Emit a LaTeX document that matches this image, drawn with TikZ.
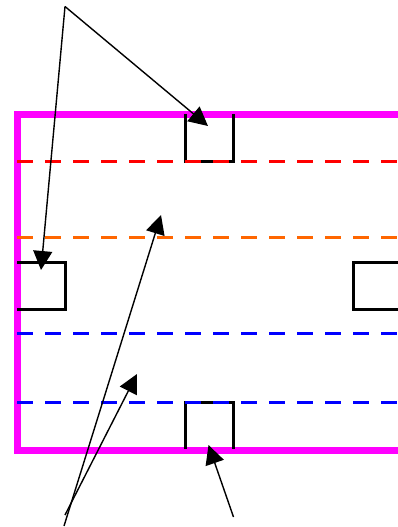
\documentclass[tikz,border=0pt]{standalone}
\usetikzlibrary{arrows.meta}
\definecolor{framemag}{HTML}{FF00FF}
\definecolor{lanered}{HTML}{FF0000}
\definecolor{laneorange}{HTML}{FF6600}
\definecolor{laneblue}{HTML}{0000FF}
\begin{document}
\begin{tikzpicture}[x=1pt,y=-1pt,
  frame/.style={draw=framemag, line width=7pt},
  port/.style={draw=black, line width=3pt},
  lane/.style={line width=3pt, dash pattern=on 16pt off 12pt},
  pointer/.style={draw=black, line width=1.4pt, -{Triangle[length=19pt,width=19pt]}}]
\useasboundingbox (0,0) rectangle (398,527);
% frame
\draw[frame] (17,114) rectangle (401,450);
% ports
\draw[port] (185,114) -- (185,161) -- (233,161) -- (233,114);
\draw[port] (17,262) -- (65.5,262) -- (65.5,309.5) -- (17,309.5);
\draw[port] (405,262) -- (353,262) -- (353,309.5) -- (405,309.5);
\draw[port] (185,449) -- (185,402) -- (233,402) -- (233,449);
% lanes
\draw[lane, draw=lanered] (17,161.5) -- (398,161.5);
\draw[lane, draw=laneorange] (17,237.5) -- (398,237.5);
\draw[lane, draw=laneblue] (17,333) -- (398,333);
\draw[lane, draw=laneblue] (17,402) -- (398,402);
% pointer anchors
\coordinate (top) at (65,6.5);
\coordinate (bl1) at (64,526);
\coordinate (bl2) at (65,515);
\coordinate (br) at (233.5,517);
\coordinate (tTop) at (208,126);
\coordinate (tLeft) at (41,270);
\coordinate (tMid) at (161,215);
\coordinate (tLow) at (137,374);
\coordinate (tBot) at (208.5,445);
\draw[pointer] (top) -- (tTop);
\draw[pointer] (top) -- (tLeft);
\draw[pointer] (bl1) -- (tMid);
\draw[pointer] (bl2) -- (tLow);
\draw[pointer] (br) -- (tBot);
\end{tikzpicture}
\end{document}
